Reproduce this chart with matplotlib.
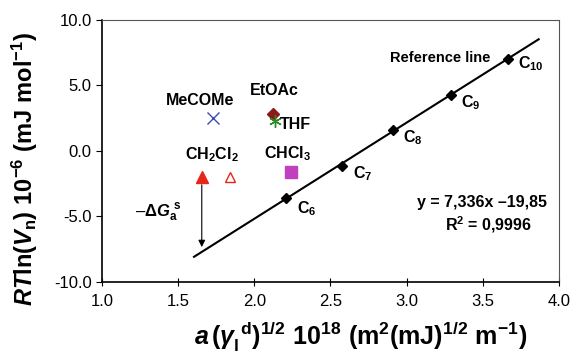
import matplotlib
matplotlib.use("Agg")
import matplotlib.pyplot as plt
import numpy as np

plt.rcParams['font.family'] = ['Liberation Sans', 'DejaVu Sans']
plt.rcParams['mathtext.fontset'] = 'custom'
plt.rcParams['mathtext.rm'] = 'Liberation Sans:bold'
plt.rcParams['mathtext.it'] = 'Liberation Sans:italic:bold'
plt.rcParams['mathtext.bf'] = 'Liberation Sans:bold'

# reference n-alkanes
alk_x = [2.207, 2.575, 2.909, 3.290, 3.664]
alk_y = [-3.59, -1.15, 1.60, 4.27, 7.02]
alk_names = ["C$_6$", "C$_7$", "C$_8$", "C$_9$", "C$_{10}$"]
slope, icpt = 7.336, -19.85
line_x = [1.604, 3.867]

# polar probes
mecome = (1.73, 2.52)
etoac = (2.12, 2.82)
thf = (2.136, 2.29)
chcl3 = (2.24, -1.60)
ch2cl2 = (1.655, -1.98)
ch2cl2_open = (1.84, -2.00)
arrow_end = -7.55

fig = plt.figure(figsize=(5.78, 3.61), dpi=100)
ax = fig.add_axes([0.1765, 0.219, 0.7905, 0.726])

lx = np.array(line_x)
ax.plot(lx, slope * lx + icpt, color='black', lw=1.5, zorder=2)
ax.plot(alk_x, alk_y, 'D', color='black', ms=5, zorder=3)

lab_off = [(0.07, -0.8), (0.07, -0.6), (0.07, -0.6), (0.07, -0.55), (0.07, -0.4)]
for x, y, n, (dx, dy) in zip(alk_x, alk_y, alk_names, lab_off):
    ax.text(x + dx, y + dy, n, fontsize=11.5, fontweight='bold', ha='left', va='center')
ax.text(3.55, 7.1, "Reference line", fontsize=10.5, fontweight='bold', ha='right', va='center')

ax.plot(*mecome, 'x', color='#3a4db0', ms=9, mew=1.0)
ax.plot(*etoac, 'D', color='#8b1a1a', ms=6)
ax.plot(*thf, marker=(6, 2, 0), color='#2a8a2a', ms=9, mew=1.0, ls='none')
ax.plot(*chcl3, 's', color='#c040c0', ms=8)
ax.plot(*ch2cl2, '^', color='#e8251b', ms=8)
ax.plot(*ch2cl2_open, '^', mfc='white', mec='#e8251b', ms=7, mew=1.0)

ax.text(1.645, 3.85, "MeCOMe", fontsize=11.5, fontweight='bold', ha='center', va='center')
ax.text(2.13, 4.6, "EtOAc", fontsize=11.5, fontweight='bold', ha='center', va='center')
ax.text(2.17, 2.0, "THF", fontsize=11.5, fontweight='bold', ha='left', va='center')
ax.text(1.72, -0.3, "CH$_2$Cl$_2$", fontsize=11.5, fontweight='bold', ha='center', va='center')
ax.text(2.22, -0.2, "CHCl$_3$", fontsize=11.5, fontweight='bold', ha='center', va='center')

ax.annotate("", xy=(ch2cl2[0], arrow_end), xytext=(ch2cl2[0], ch2cl2[1] - 0.4),
            arrowprops=dict(arrowstyle='-|>', color='black', lw=0.8, mutation_scale=10))
ax.text(1.37, -4.7, r"–$\Delta G_{\mathrm{a}}^{\ \mathrm{s}}$", fontsize=12, ha='center', va='center')

ax.text(3.92, -3.95, "y = 7,336x –19,85", fontsize=11.5, fontweight='bold', ha='right', va='center')
ax.text(3.825, -5.65, "R$^2$ = 0,9996", fontsize=11.5, fontweight='bold', ha='right', va='center')

ax.set_xlim(1.0, 4.0)
ax.set_ylim(-10.0, 10.0)
ax.set_xticks(np.arange(1.0, 4.01, 0.5))
ax.set_yticks(np.arange(-10.0, 10.01, 5.0))
ax.xaxis.set_major_formatter(matplotlib.ticker.FormatStrFormatter('%.1f'))
ax.yaxis.set_major_formatter(matplotlib.ticker.FormatStrFormatter('%.1f'))
ax.tick_params(axis='x', direction='inout', length=6, labelsize=12, pad=6)
ax.tick_params(axis='y', direction='out', length=4, labelsize=12)
for s in ['top', 'right']:
    ax.spines[s].set_color('#555555')
    ax.spines[s].set_linewidth(0.8)
for s in ['bottom', 'left']:
    ax.spines[s].set_linewidth(1.2)

ax.set_xlabel(r"$a\,(\gamma_{\mathrm{l}}^{\ \mathrm{d}})^{1/2}\ 10^{18}\ (\mathrm{m}^2(\mathrm{mJ})^{1/2}\ \mathrm{m}^{-1})$",
              fontsize=18)
ax.xaxis.set_label_coords(0.565, -0.145)
ax.set_ylabel(r"$RT\mathrm{ln}(V_{\mathrm{n}})\ 10^{-6}\ (\mathrm{mJ\ mol}^{-1})$", fontsize=17)
ax.yaxis.set_label_coords(-0.135, 0.43)

fig.savefig("out.png", dpi=100)
